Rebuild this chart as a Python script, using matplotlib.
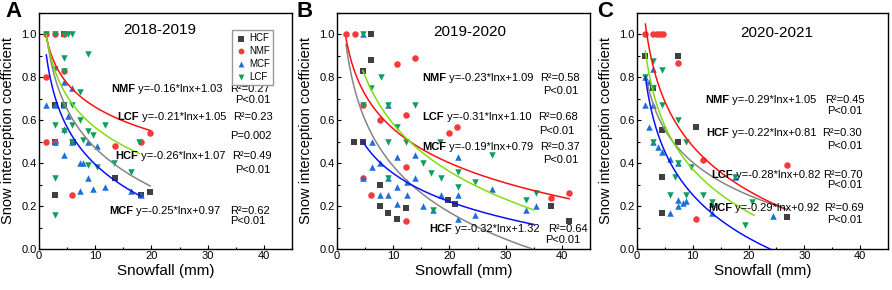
import numpy as np
import matplotlib
matplotlib.use("Agg")
import matplotlib.pyplot as plt
from matplotlib.ticker import MultipleLocator

plt.rcParams["font.family"] = ["Liberation Sans", "DejaVu Sans"]

# series names and styles
series = ["HCF", "NMF", "MCF", "LCF"]
marker_of = {"HCF": "s", "NMF": "o", "MCF": "^", "LCF": "v"}
color_of = {"HCF": "#404040", "NMF": "#f23b3b", "MCF": "#1f6fd8", "LCF": "#0e9f5c"}
line_of = {"HCF": "#858585", "NMF": "#ff1010", "MCF": "#0a10ff", "LCF": "#80dd10"}

panel_letters = ["A", "B", "C"]
panel_years = ["2018-2019", "2019-2020", "2020-2021"]

# ---- 2018-2019 ----
a_hcf_x = [4.4, 2.9, 4.4, 6.0, 2.9, 2.8, 13.6, 19.8, 18.2]
a_hcf_y = [1.0, 0.67, 0.67, 0.5, 0.5, 0.25, 0.33, 0.265, 0.25]
a_nmf_x = [1.2, 2.8, 4.4, 1.2, 1.2, 2.8, 4.4, 5.85, 13.6, 18.2, 19.7]
a_nmf_y = [1.0, 1.0, 1.0, 0.8, 0.5, 0.5, 0.83, 0.25, 0.48, 0.5, 0.54]
a_mcf_x = [1.2, 2.8, 4.4, 2.8, 4.4, 5.8, 5.1, 4.4, 4.4, 5.8, 7.3, 7.9, 8.8, 10.3,
           7.3, 8.8, 9.6, 11.8, 16.3, 18.2]
a_mcf_y = [0.67, 0.67, 0.67, 0.5, 0.78, 0.75, 0.62, 0.56, 0.44, 0.5, 0.40, 0.40, 0.50, 0.48,
           0.27, 0.33, 0.28, 0.29, 0.27, 0.25]
a_lcf_x = [1.2, 2.8, 4.4, 5.1, 5.8, 8.8, 4.4, 4.4, 2.8, 7.3, 4.4, 5.8, 2.8, 5.8, 7.3,
           4.4, 8.8, 9.6, 7.9, 11.8, 5.8, 8.8, 10.3, 13.3, 16.3, 17.8, 2.8, 2.8]
a_lcf_y = [1.0, 1.0, 1.0, 1.0, 1.0, 0.91, 0.89, 0.83, 0.84, 0.73, 0.67, 0.67, 0.58, 0.58, 0.60,
           0.55, 0.55, 0.53, 0.51, 0.58, 0.50, 0.39, 0.38, 0.40, 0.36, 0.50, 0.33, 0.16]

# ---- 2019-2020 ----
b_hcf_x = [6.1, 6.1, 4.65, 3.1, 4.65, 7.7, 7.7, 9.1, 10.7, 12.2, 19.7, 21.0, 38.0, 41.3]
b_hcf_y = [1.0, 0.88, 0.83, 0.50, 0.50, 0.30, 0.20, 0.17, 0.14, 0.19, 0.23, 0.21, 0.20, 0.13]
b_nmf_x = [1.65, 3.2, 10.7, 13.8, 12.2, 7.7, 4.65, 19.9, 21.3, 4.65, 6.1, 12.2, 12.2, 38.0, 41.3]
b_nmf_y = [1.0, 1.0, 0.86, 0.89, 0.625, 0.60, 0.67, 0.54, 0.57, 0.33, 0.25, 0.38, 0.13, 0.24, 0.26]
b_mcf_x = [4.7, 6.2, 6.2, 7.6, 9.1, 10.6, 13.9, 7.6, 9.1, 10.6, 12.4, 12.4, 13.9, 15.3,
           18.5, 21.5, 21.5, 21.5, 24.5, 27.6, 33.7, 35.4, 4.6, 9.1, 10.6, 17.0]
b_mcf_y = [1.0, 0.5, 0.38, 0.40, 0.67, 0.43, 0.44, 0.25, 0.25, 0.21, 0.25, 0.31, 0.33, 0.20,
           0.25, 0.25, 0.43, 0.14, 0.16, 0.28, 0.18, 0.20, 0.33, 0.33, 0.29, 0.18]
b_lcf_x = [4.7, 6.1, 7.8, 4.6, 9.1, 13.9, 10.7, 9.1, 12.2, 18.4, 15.3, 16.8, 18.5, 21.5,
           21.5, 24.5, 27.6, 33.7, 35.4, 9.1, 17.0]
b_lcf_y = [1.0, 0.75, 0.80, 0.67, 0.67, 0.67, 0.57, 0.50, 0.50, 0.50, 0.40, 0.355, 0.33, 0.36,
           0.29, 0.31, 0.44, 0.23, 0.26, 0.33, 0.18]

# ---- 2020-2021 ----
c_hcf_x = [1.35, 7.35, 2.9, 4.4, 7.35, 10.5, 4.4, 4.4, 26.9]
c_hcf_y = [0.90, 0.90, 0.75, 0.555, 0.50, 0.57, 0.336, 0.167, 0.148]
c_nmf_x = [1.35, 2.8, 3.5, 4.1, 4.7, 7.35, 11.9, 26.9, 10.5]
c_nmf_y = [1.0, 1.0, 1.0, 1.0, 1.0, 0.866, 0.417, 0.39, 0.14]
c_mcf_x = [1.35, 1.35, 2.2, 2.2, 2.9, 2.9, 2.9, 3.7, 4.4, 5.9, 7.35, 5.9, 7.35, 7.35, 8.2,
           8.8, 13.4, 13.4, 17.6, 24.4]
c_mcf_y = [0.67, 0.80, 0.78, 0.57, 0.84, 0.67, 0.50, 0.475, 0.45, 0.42, 0.40, 0.17, 0.23, 0.20,
           0.215, 0.225, 0.17, 0.21, 0.336, 0.155]
c_lcf_x = [1.35, 2.9, 4.4, 2.9, 4.4, 7.35, 2.9, 8.8, 7.35, 9.7, 6.8, 17.6, 5.9, 8.8, 11.9,
           13.4, 19.3, 20.6]
c_lcf_y = [0.80, 0.875, 0.835, 0.75, 0.67, 0.60, 0.50, 0.50, 0.40, 0.38, 0.336, 0.336, 0.25,
           0.25, 0.25, 0.22, 0.11, 0.22]

# fitted log curves as drawn: slope, intercept, x start, x end
a_fits = {"HCF": (-0.26, 1.07, 1.3, 19.8), "NMF": (-0.16, 1.03, 1.3, 19.8),
          "MCF": (-0.25, 0.97, 1.3, 18.2), "LCF": (-0.21, 1.05, 1.3, 17.8)}
b_fits = {"HCF": (-0.31, 1.10, 1.6, 35.0), "NMF": (-0.23, 1.09, 1.6, 41.3),
          "MCF": (-0.19, 0.79, 4.6, 35.0), "LCF": (-0.32, 1.32, 4.6, 35.0)}
c_fits = {"HCF": (-0.22, 0.91, 1.8, 27.0), "NMF": (-0.30, 1.17, 1.5, 26.5),
          "MCF": (-0.29, 0.92, 1.5, 25.0), "LCF": (-0.29, 1.04, 1.5, 21.0)}

# equation labels: name, equation, R2, p text, x of name, y, x of R2, x of p, y of p
a_labels = [("NMF", "y=-0.16*lnx+1.03", "0.27", "P<0.01", 12.8, 0.747, 34.0, 34.9, 0.695),
            ("LCF", "y=-0.21*lnx+1.05", "0.23", "P=0.002", 14.0, 0.614, 34.6, 34.0, 0.526),
            ("HCF", "y=-0.26*lnx+1.07", "0.49", "P<0.01", 13.6, 0.432, 34.4, 34.9, 0.367),
            ("MCF", "y=-0.25*lnx+0.97", "0.62", "P<0.01", 12.5, 0.179, 34.0, 34.0, 0.129)]
b_labels = [("NMF", "y=-0.23*lnx+1.09", "0.58", "P<0.01", 15.2, 0.795, 36.2, 36.6, 0.738),
            ("LCF", "y=-0.31*lnx+1.10", "0.68", "P<0.01", 15.2, 0.614, 35.8, 36.0, 0.552),
            ("MCF", "y=-0.19*lnx+0.79", "0.37", "P<0.01", 15.2, 0.475, 36.2, 36.6, 0.417),
            ("HCF", "y=-0.32*lnx+1.32", "0.64", "P<0.01", 16.4, 0.093, 37.6, 37.0, 0.043)]
c_labels = [("NMF", "y=-0.29*lnx+1.05", "0.45", "P<0.01", 12.2, 0.694, 33.8, 34.1, 0.645),
            ("HCF", "y=-0.22*lnx+0.81", "0.30", "P<0.01", 12.5, 0.540, 33.2, 34.1, 0.480),
            ("LCF", "y=-0.28*lnx+0.82", "0.70", "P<0.01", 13.4, 0.347, 33.4, 34.1, 0.298),
            ("MCF", "y=-0.29*lnx+0.92", "0.69", "P<0.01", 12.8, 0.193, 33.6, 34.1, 0.136)]

panels = [
    ({"HCF": (a_hcf_x, a_hcf_y), "NMF": (a_nmf_x, a_nmf_y),
      "MCF": (a_mcf_x, a_mcf_y), "LCF": (a_lcf_x, a_lcf_y)}, a_fits, a_labels, (21.4, 1.02)),
    ({"HCF": (b_hcf_x, b_hcf_y), "NMF": (b_nmf_x, b_nmf_y),
      "MCF": (b_mcf_x, b_mcf_y), "LCF": (b_lcf_x, b_lcf_y)}, b_fits, b_labels, (23.6, 1.01)),
    ({"HCF": (c_hcf_x, c_hcf_y), "NMF": (c_nmf_x, c_nmf_y),
      "MCF": (c_mcf_x, c_mcf_y), "LCF": (c_lcf_x, c_lcf_y)}, c_fits, c_labels, (25.0, 1.005)),
]

fig = plt.figure(figsize=(8.92, 2.90), dpi=100)
lefts = [39, 337, 637]
widths = [253, 253, 251]
letter_x = [5, 297, 597]
fs = 8.0

for i, (pts, fits, labels, title_xy) in enumerate(panels):
    ax = fig.add_axes([lefts[i] / 892, 41 / 290, widths[i] / 892, 236 / 290])
    for name in series:
        xs, ys = pts[name]
        ax.scatter(xs, ys, marker=marker_of[name], s=22, color=color_of[name],
                   linewidths=0, label=name, zorder=3)
    for name in series:
        k, b, x0, x1 = fits[name]
        xx = np.linspace(x0, x1, 200)
        ax.plot(xx, k * np.log(xx) + b, color=line_of[name], lw=1.1, zorder=4)

    for name, eq, r2, ptxt, sx, ty, rx, px, py in labels:
        t = ax.text(sx, ty, name, fontsize=fs, fontweight="bold", va="center", zorder=5)
        ax.annotate(" " + eq, xycoords=t, xy=(1, 0.5), va="center", fontsize=fs, zorder=5)
        ax.text(rx, ty, "R²=" + r2, fontsize=fs, va="center", zorder=5)
        ax.text(px, py, ptxt, fontsize=fs, va="center", zorder=5)

    ax.text(title_xy[0], title_xy[1], panel_years[i], fontsize=11, ha="center", va="center")

    ax.set_xlim(0, 45)
    ax.set_ylim(0, 1.1)
    ax.xaxis.set_major_locator(MultipleLocator(10))
    ax.xaxis.set_minor_locator(MultipleLocator(5))
    ax.yaxis.set_major_locator(MultipleLocator(0.2))
    ax.yaxis.set_minor_locator(MultipleLocator(0.1))
    ax.set_yticks([0, 0.2, 0.4, 0.6, 0.8, 1.0])
    ax.set_yticklabels(["0.0", "0.2", "0.4", "0.6", "0.8", "1.0"])
    ax.tick_params(which="major", direction="in", length=3, width=0.8, labelsize=8, pad=1.5)
    ax.tick_params(which="minor", direction="in", length=1.8, width=0.8)
    for sp in ax.spines.values():
        sp.set_linewidth(1.0)
    ax.set_xlabel("Snowfall (mm)", fontsize=11, labelpad=2)
    ax.set_ylabel("Snow interception coefficient", fontsize=10.5)
    ax.yaxis.set_label_coords(-0.095, 0.5)

    if i == 0:
        ax.legend(loc="upper right", bbox_to_anchor=(0.945, 0.95), fontsize=7,
                  frameon=True, fancybox=False, edgecolor="#999999", framealpha=1,
                  handletextpad=0.2, borderpad=0.35, labelspacing=0.3,
                  handlelength=1.2, markerscale=0.9)

    fig.text(letter_x[i] / 892, 0.995, panel_letters[i], fontsize=16,
             fontweight="bold", ha="left", va="top")

fig.savefig("out.png", dpi=100)
